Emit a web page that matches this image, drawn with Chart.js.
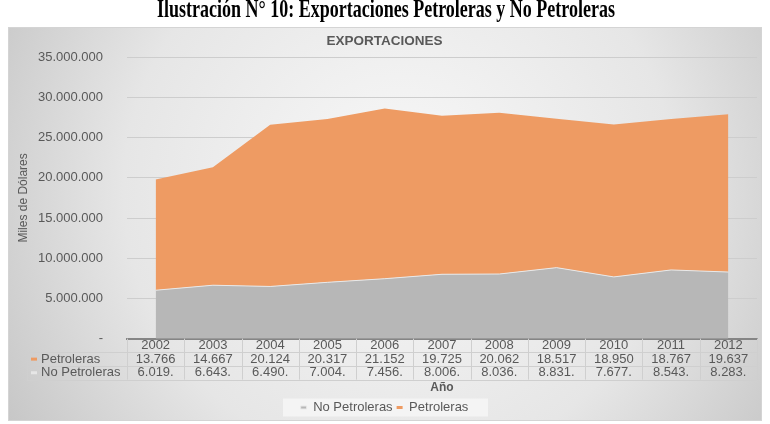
<!DOCTYPE html>
<html>
<head>
<meta charset="utf-8">
<script src="https://cdn.jsdelivr.net/npm/chart.js@4.4.1/dist/chart.umd.min.js"></script>
<style>
  html, body { margin: 0; padding: 0; background: #fff; overflow: hidden; }
  #wrap { width: 770px; height: 424px; position: relative; }
</style>
</head>
<body>
<div id="wrap"><canvas id="exportaciones" width="770" height="424"></canvas></div>
<script>
// datos en miles de dolares
var anios = ['2002', '2003', '2004', '2005', '2006', '2007', '2008', '2009', '2010', '2011', '2012'];
var petroleras = [13766000, 14667000, 20124000, 20317000, 21152000, 19725000, 20062000, 18517000, 18950000, 18767000, 19637000];
var noPetroleras = [6019000, 6643000, 6490000, 7004000, 7456000, 8006000, 8036000, 8831000, 7677000, 8543000, 8283000];
var yTicks = [0, 5000000, 10000000, 15000000, 20000000, 25000000, 30000000, 35000000];

var naranja = '#EE9B63';
var gris = '#B7B7B7';
var texto = '#595959';

function miles(v) {
    return String(v).replace(/\B(?=(\d{3})+(?!\d))/g, '.');
}

// fondo, titulo de la pagina y caja del grafico
var fondo = {
    id: 'fondo',
    beforeDraw: function (chart) {
        var c = chart.ctx;
        c.save();
        c.fillStyle = '#fff';
        c.fillRect(0, 0, chart.width, chart.height);
        var g = c.createRadialGradient(400, 190, 40, 400, 190, 470);
        g.addColorStop(0, '#F6F6F6');
        g.addColorStop(0.55, '#E6E6E6');
        g.addColorStop(1, '#C4C4C4');
        c.fillStyle = g;
        c.fillRect(8, 27, 754, 394);
        c.strokeStyle = '#D4D4D4';
        c.lineWidth = 1;
        c.strokeRect(8.5, 27.5, 753, 393);

        // titulo de la ilustracion, algo comprimido y cortado arriba
        var titulo = 'Ilustración N° 10: Exportaciones Petroleras y No Petroleras';
        c.fillStyle = '#000';
        c.font = 'bold 25px "Liberation Serif", "Times New Roman", serif';
        c.textAlign = 'left';
        c.textBaseline = 'alphabetic';
        var w = c.measureText(titulo).width;
        c.translate(157, 17);
        c.scale(458 / w, 1);
        c.fillText(titulo, 0, 0);
        c.setTransform(1, 0, 0, 1, 0, 0);

        // caja clara de la leyenda
        var lg = chart.legend;
        if (lg && lg.legendHitBoxes && lg.legendHitBoxes.length) {
            var hb = lg.legendHitBoxes[0];
            var cy = hb.top + hb.height / 2;
            c.fillStyle = 'rgba(246,246,246,0.85)';
            c.fillRect(283, cy - 9, 205, 18);
        }
        c.restore();
    }
};

// tabla de datos bajo el eje x
var tabla = {
    id: 'tabla',
    afterDraw: function (chart) {
        var c = chart.ctx;
        var x = chart.scales.x;
        var left = chart.chartArea.left, right = chart.chartArea.right;
        var top = x.top;
        var lh = 13.65;
        var paso = (right - left) / anios.length;
        c.save();
        c.strokeStyle = '#CFCFCF';
        c.lineWidth = 1;
        c.beginPath();
        for (var i = 1; i <= anios.length; i++) {
            var xx = Math.round(left + i * paso) + 0.5;
            c.moveTo(xx, top);
            c.lineTo(xx, top + 3 * lh);
        }
        c.moveTo(Math.round(left) + 0.5, top);
        c.lineTo(Math.round(left) + 0.5, top + 3 * lh);
        var r1 = Math.round(top + lh) + 0.5, r2 = Math.round(top + 2 * lh) + 0.5, r3 = Math.round(top + 3 * lh) + 0.5;
        c.moveTo(27, r1); c.lineTo(right, r1);
        c.moveTo(27, r2); c.lineTo(right, r2);
        c.moveTo(27, r3); c.lineTo(right, r3);
        c.moveTo(27.5, r1); c.lineTo(27.5, r3);
        c.stroke();

        c.font = '13px "Liberation Sans", Arial, sans-serif';
        c.textBaseline = 'middle';
        c.textAlign = 'left';
        var filas = [['Petroleras', naranja], ['No Petroleras', '#E6E6E6']];
        for (var j = 0; j < filas.length; j++) {
            var yy = top + (j + 1.5) * lh;
            c.fillStyle = filas[j][1];
            c.fillRect(31, yy - 1.5, 6, 3);
            c.fillStyle = texto;
            c.fillText(filas[j][0], 41, yy);
        }
        c.restore();
    }
};

var ctx = document.getElementById('exportaciones').getContext('2d');
var grafico = new Chart(ctx, {
    type: 'line',
    data: {
        labels: anios,
        datasets: [{
            label: 'No Petroleras',
            data: noPetroleras,
            backgroundColor: gris,
            borderColor: '#E9E9E9',
            borderWidth: 1,
            pointRadius: 0,
            fill: 'origin',
            tension: 0
        }, {
            label: 'Petroleras',
            data: petroleras,
            backgroundColor: naranja,
            borderColor: naranja,
            borderWidth: 0,
            pointRadius: 0,
            fill: '-1',
            tension: 0
        }]
    },
    options: {
        responsive: false,
        animation: false,
        layout: { padding: { left: 12, right: 13, top: 28, bottom: 0 } },
        plugins: {
            title: {
                display: true,
                text: 'EXPORTACIONES',
                color: texto,
                font: { family: '"Liberation Sans", Arial, sans-serif', size: 13.5, weight: 'bold' },
                padding: { top: 5, bottom: 8 }
            },
            legend: {
                position: 'bottom',
                labels: {
                    color: texto,
                    boxWidth: 6,
                    boxHeight: 3,
                    padding: 4,
                    font: { family: '"Liberation Sans", Arial, sans-serif', size: 13 }
                }
            },
            tooltip: { enabled: false }
        },
        scales: {
            x: {
                offset: true,
                grid: { display: false, drawTicks: false },
                border: { display: true, color: '#858585', width: 2 },
                ticks: {
                    padding: 0,
                    maxRotation: 0,
                    autoSkip: false,
                    color: texto,
                    font: { family: '"Liberation Sans", Arial, sans-serif', size: 13, lineHeight: 1.05 },
                    callback: function (v, i) {
                        return [anios[i], miles(petroleras[i]).slice(0, 6), miles(noPetroleras[i]).slice(0, 6)];
                    }
                },
                title: {
                    display: true,
                    text: 'Año',
                    color: texto,
                    font: { family: '"Liberation Sans", Arial, sans-serif', size: 12, weight: 'bold' },
                    padding: { top: 1, bottom: 2 }
                }
            },
            y: {
                stacked: true,
                min: 0,
                max: 35000000,
                afterFit: function (s) { s.width = 115; },
                afterBuildTicks: function (s) { s.ticks = yTicks.map(function (v) { return { value: v }; }); },
                grid: { color: '#CDCDCD', drawTicks: false },
                border: { display: false },
                ticks: {
                    padding: 24,
                    color: texto,
                    font: { family: '"Liberation Sans", Arial, sans-serif', size: 13 },
                    callback: function (v) { return v === 0 ? '-' : miles(v); }
                },
                title: {
                    display: true,
                    text: 'Miles de Dólares',
                    color: texto,
                    font: { family: '"Liberation Sans", Arial, sans-serif', size: 12 },
                    padding: { top: 4, bottom: 0 }
                }
            }
        }
    },
    plugins: [fondo, tabla]
});
</script>
</body>
</html>
